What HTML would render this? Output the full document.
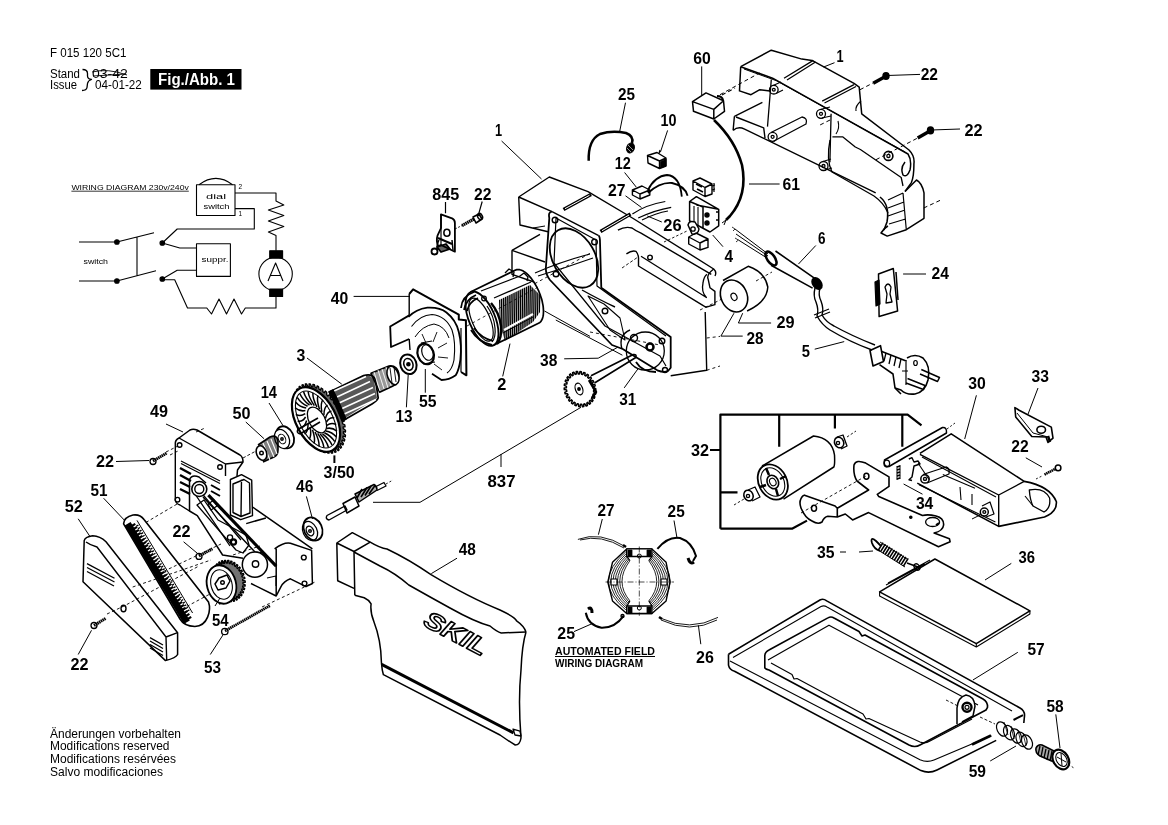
<!DOCTYPE html>
<html><head><meta charset="utf-8"><style>
html,body{margin:0;padding:0;background:#fff;overflow:hidden}
svg{display:block;filter:grayscale(1)}
</style></head><body>
<svg width="1168" height="825" viewBox="0 0 1168 825">
<rect width="1168" height="825" fill="#fff"/>
<g fill="none" stroke="#000" stroke-width="1.4" stroke-linejoin="round" stroke-linecap="butt">
<!-- 00_header.svg -->
<g stroke="none" fill="#000" font-family="Liberation Sans" font-size="12">
<text x="50" y="57" textLength="76.4" lengthAdjust="spacingAndGlyphs">F 015 120 5C1</text>
<text x="50" y="77.5" textLength="30" lengthAdjust="spacingAndGlyphs">Stand</text>
<text x="50" y="89" textLength="27" lengthAdjust="spacingAndGlyphs">Issue</text>
<text x="92" y="77.5" textLength="35.7" lengthAdjust="spacingAndGlyphs">03-42</text>
<text x="95" y="89" textLength="46.8" lengthAdjust="spacingAndGlyphs">04-01-22</text>
<text x="50" y="737.5" textLength="131" lengthAdjust="spacingAndGlyphs">Änderungen vorbehalten</text>
<text x="50" y="750.3" textLength="119.5" lengthAdjust="spacingAndGlyphs">Modifications reserved</text>
<text x="50" y="763" textLength="126" lengthAdjust="spacingAndGlyphs">Modifications resérvées</text>
<text x="50" y="776" textLength="113" lengthAdjust="spacingAndGlyphs">Salvo modificaciones</text>
<rect x="150.3" y="69" width="91.2" height="20.6"/>
<text x="158" y="84.5" fill="#fff" font-weight="bold" font-size="16" textLength="77" lengthAdjust="spacingAndGlyphs">Fig./Abb. 1</text>
<text x="555" y="654.8" font-weight="bold" font-size="11" textLength="100" lengthAdjust="spacingAndGlyphs">AUTOMATED FIELD</text>
<text x="555" y="667" font-weight="bold" font-size="11" textLength="88" lengthAdjust="spacingAndGlyphs">WIRING DIAGRAM</text>
</g>
<path d="M555 656.5H655" stroke-width="1"/>
<path d="M82.5 69.5 Q87.5 69.5 87.5 73.5 L87.5 76 Q87.5 79 91.5 79.5 Q88 80.5 87.5 83.5 L87 87.5 Q86.5 90.5 82 90.5" stroke-width="1.3"/>
<path d="M92 72 Q108 68 127 75 M93 76 L126 74" stroke-width="0.9"/>

<!-- 01_wiring.svg -->
<g stroke-width="1.1">
<g stroke="none" fill="#000" font-family="Liberation Sans" font-size="7.5">
<text x="71.4" y="189.5" textLength="117.4" lengthAdjust="spacingAndGlyphs">WIRING DIAGRAM 230v/240v</text>
<text x="206" y="199" font-size="8" textLength="20" lengthAdjust="spacingAndGlyphs">dial</text>
<text x="203.5" y="208.5" font-size="8" textLength="26" lengthAdjust="spacingAndGlyphs">switch</text>
<text x="201.5" y="262" font-size="7" textLength="27" lengthAdjust="spacingAndGlyphs">suppr.</text>
<text x="83.5" y="264" font-size="8" textLength="24.5" lengthAdjust="spacingAndGlyphs">switch</text>
<text x="238.5" y="188.5" font-size="6.5">2</text>
<text x="238.5" y="216" font-size="6.5">1</text>
</g>
<path d="M71.4 191.2H188.8" stroke-width="0.8"/>
<rect x="196.5" y="184.7" width="38.5" height="30.8"/>
<path d="M199 184.7 Q216 172 232.5 184.7"/>
<path d="M235 193H276V201 L283.8 205 L268.4 210 L283.8 215.5 L268.4 221 L283.8 226.5 L268.4 232 L276 235.5V250.7"/>
<path d="M235 208.6H254.3V229H177.2L162.3 243"/>
<rect x="269.7" y="250.7" width="12.9" height="7.5" fill="#000"/>
<circle cx="275.6" cy="274" r="16.7"/>
<path d="M268 281 L275.6 263 L283 281 M270.5 275.5H280.8"/>
<rect x="269.7" y="289" width="12.9" height="7.5" fill="#000"/>
<path d="M276 296.5V308H245.3L241.5 314 L234 299 L226.5 314 L219 299 L211.5 314 L206.8 308H187.5L174.7 279.7H162.3"/>
<path d="M162.3 243L179.8 248H196.5"/>
<rect x="196.5" y="243.8" width="33.9" height="32.6"/>
<path d="M162.3 279L177.2 270.2H196.5"/>
<path d="M79 242H116.9L154 232.7 M79 281H116.9L156 270.7 M137 237.3V275.9"/>
<circle cx="116.9" cy="242" r="2.3" fill="#000"/>
<circle cx="116.9" cy="281" r="2.3" fill="#000"/>
<circle cx="162.3" cy="243" r="2.3" fill="#000"/>
<circle cx="162.3" cy="279" r="2.3" fill="#000"/>
</g>

<!-- 10_handle.svg -->
<g stroke-width="1.3">
<!-- top channel box -->
<path d="M740.7 66.7 L771.3 50.2 L801.9 59.1 L812 60.4 L854 83.3 L859.2 87.1 L861.7 113.8 L909 150 Q915 156 913.9 164 Q914 176 911.4 182.6 L905 191.5" stroke-width="1.5"/>
<path d="M740.7 66.7 L739.5 90.9 L751 94.7 L759.8 89.7 L770 90.9" stroke-width="1.5"/>
<path d="M740.7 66.7 L772.6 78.2 L908 154 Q912 160 910 170 Q907 178 903 175 Q900 168 905 162" stroke-width="1.5"/>
<path d="M744 69 L776.4 80.7 L905 152" stroke-width="1"/>
<path d="M784 78.2 L813.3 60.4 M787 80 L815.5 62" stroke-width="1.3"/>
<path d="M822.2 101.1 L854 84.6 M824.5 103 L856 86.5" stroke-width="1.3"/>
<path d="M861 101 Q855 106 856 111" stroke-width="1.2"/>
<!-- tray lower left -->
<path d="M734.4 116.4 L762.4 102.4 M734.4 116.4 L733.1 130.4 M736 117 L763.7 127.9 L765 138 M733.1 130.4 Q738 126 744.6 129.1 L875.7 192.8" stroke-width="1.4"/>
<!-- internal verticals -->
<path d="M771.3 79.5 L767.5 126.6 M831.1 113.8 L829.9 162.2" stroke-width="1.3"/>
<!-- grip lower edge with notch -->
<path d="M832.4 136.8 L842.6 136.8 L855.3 147 L860.4 149.5 L901.2 177.5 L903 186" stroke-width="1.3"/>
<path d="M830 140 Q826 160 832 172 L874 196 Q884 203 888 213" stroke-width="1.3"/>
<path d="M838 121 Q840 128 836 134" stroke-width="1.1"/>
<!-- rear foot -->
<path d="M905 191.5 L916.5 180 Q922 183 924 192.8 L924 218.3 L906.3 229.7 L887.2 236.1 L881 233 Q884 228 888 226" stroke-width="1.5"/>
<path d="M903 193 L906.3 229.7 M888 200 L903 193 M888 208 L904 202 M888 216 L905 210 M889 224 L905.5 219" stroke-width="1.2"/>
<path d="M880 197 Q890 205 887 222 L884 230" stroke-width="1.6"/>
<!-- cylinders -->
<circle cx="773.8" cy="89.7" r="4.3"/><circle cx="773.8" cy="89.7" r="1.4"/>
<path d="M773 85.5 L781 82 M776 93.5 L783 90" stroke-width="1.1"/>
<path d="M771 132.5 L802 117 Q808 118 806 124 L774 141" stroke-width="1.3"/>
<circle cx="772.6" cy="136.8" r="4.5"/><circle cx="772.6" cy="136.8" r="1.5"/>
<circle cx="821" cy="113.8" r="4.5"/><circle cx="821" cy="113.8" r="1.5"/>
<path d="M821 109.3 L830 107 M822 118 L831 116" stroke-width="1.1"/>
<circle cx="823.5" cy="166" r="4.5"/><circle cx="823.5" cy="166" r="1.5"/>
<path d="M823 161.5 L831 159 M825 170 L832 168" stroke-width="1.1"/>
<circle cx="888.4" cy="155.9" r="4.5" stroke-width="1.6"/><circle cx="888.4" cy="155.9" r="1.6"/>
<!-- dashed -->
<path d="M720 94.7 L759.5 73 M860 89.7 L873 83 M876 159.7 L917.7 138 M923.7 208 L940 200.4 M830 120 L818 126" stroke-dasharray="4 3" stroke-width="1"/>
<path d="M823.6 67 L834.5 62.7 M887 75.5 L920 74.4 M931 130 L960 129" stroke-width="1"/>
<!-- screws -->
<path d="M873.2 83.3 L884 77.3" stroke-width="3.4"/><ellipse cx="886" cy="76" rx="2.6" ry="3" stroke-width="2.2" fill="#000"/>
<path d="M917.7 138 L929 131.5" stroke-width="3.4"/><ellipse cx="930.5" cy="130.4" rx="2.6" ry="3" stroke-width="2.2" fill="#000"/>
</g>

<!-- 11_housing.svg -->
<g stroke-width="1.4">
<!-- top box -->
<path d="M518.7 197 L549.3 177 L588 191.7 L632.4 218 L713.7 269 Q717 272 715 276 M705.2 312 L706.7 370.3 L670.7 375.7"/>
<path d="M518.7 197 L552 211.7 M518.7 197 L520 225 L548 231.7"/>
<path d="M563.5 209.5 L591 194.5" stroke-width="3.6"/><path d="M565 208.7 L589.5 195.3" stroke="#fff" stroke-width="1"/>
<path d="M600.5 231.5 L630.5 214" stroke-width="3.6"/><path d="M602 230.7 L629 215" stroke="#fff" stroke-width="1"/>
<path d="M552 211.7 L598.7 235.7"/>
<!-- fan face plate -->
<path d="M552 211.7 Q548 212 549.3 218 L546 266 Q545 274 550 280 L612 345 L622.7 349 L657.3 370.3 Q664 373 668 371 L670.7 367.7 L670.7 337 L601.3 287.7 L600 242.3 Q600 237 598.7 235.7" stroke-width="1.8"/>
<path d="M556 218 L554 263 L605 326 L660 356 L666 366 M556 218 L596 240 L597 286 L666 336" stroke-width="1.2"/>
<ellipse cx="574" cy="258" rx="32" ry="21" transform="rotate(60 574 258)" stroke-width="1.8"/>
<path d="M535 273 Q560 262 590 254 M538 276 Q565 268 593 258" stroke-width="1.2"/>
<circle cx="555" cy="220" r="2.8"/><circle cx="594.5" cy="242" r="2.8"/><circle cx="556" cy="274" r="2.8"/>
<circle cx="605" cy="311" r="2.8"/><circle cx="662" cy="341" r="2.8"/><circle cx="665" cy="370" r="2.5"/>
<path d="M588 296 L610 330 L625 340 L620 318 L604 304 Z" stroke-width="1.1"/>
<path d="M582 290 Q600 300 615 307"/>
<!-- gear plate -->
<circle cx="645.3" cy="351" r="19" stroke-width="1.3"/>
<circle cx="650" cy="347" r="3.5" stroke-width="2.5"/>
<circle cx="634" cy="338" r="3.5"/>
<path d="M622 349 Q618 335 630 330"/>
<!-- slot in body -->
<path d="M617.9 230.2 Q625 226 632 228 Q636 231 641 233.2 L711.3 274.4" stroke-width="1.4"/>
<path d="M626.4 253.8 Q632 250 636 251.4 Q639 255 638.5 260 L638.5 266 L701.6 304.7 Q705 307 706.4 307.2 L714.9 304.7 L714.9 291.4 L710 287.8 L708.2 279.3 Q706 275 713.7 269" stroke-width="1.4"/>
<path d="M641 256.2 L706.4 297.5 Q701 292 703 283 Q704 276 707 274.4" stroke-width="1.3"/>
<path d="M622 268 L638 257" stroke-dasharray="3 2" stroke-width="0.9"/>
<circle cx="650" cy="257.4" r="2.3"/>
<!-- left lower box -->
<path d="M512 250.3 L540 234.3 M512 250.3 V274.3 L534 282" />
<path d="M512 250.3 L545 262"/>
<path d="M533 228 L545 226" stroke-width="1"/>
<path d="M534.7 283.7 L590.7 253 M590 332 L660 345" stroke-dasharray="3 3" stroke-width="0.9"/>
<path d="M706.7 338 L720 336.4 M706.7 370.3 L720 366" stroke-dasharray="3 3" stroke-width="0.9"/>
<path d="M501.6 141 L541.5 179" stroke-width="1"/>
</g>

<!-- 12_stator.svg -->
<g stroke-width="1.4">
<path d="M409.2 294 L413.1 289.4 L458.8 314.7 L458.8 319.4 L465.9 320.2 L466.4 375.3 L461 372" stroke-width="2"/>
<path d="M409.2 294 V315.4 M409.2 339 L410 350" stroke-width="1.4"/>
<path d="M409.2 315.4 L390.2 326.5 L391 347 L409.2 339" stroke-width="1.8"/>
<path d="M408.4 317 Q416 309 427.3 307.6 Q440 307 446.2 312.3 Q456 320 458.8 332 Q462 345 460.4 359.6 Q459 370 455.7 375.3 Q449 380 441.5 380 L432 373.8" stroke-width="1.8"/>
<path d="M411.5 326.5 Q420 315 432 314.5 Q446 316 452 330 Q456 342 454 360 Q452 370 447 373" stroke-width="1.1"/>
<path d="M415 337 Q422 326 434 324 Q445 326 449 338" stroke-width="1"/>
<path d="M426 343 L422 334 M433 342 L437 332 M438 348 L447 343 M438 357 L448 358 M434 364 L442 370" stroke-width="0.9"/>
<path d="M461 328 L461 372" stroke-width="1.2"/>
<ellipse cx="425.7" cy="354" rx="8" ry="10.5" transform="rotate(-20 425.7 354)" stroke-width="2.2" fill="#fff"/>
<ellipse cx="427.5" cy="352.5" rx="5.5" ry="8" transform="rotate(-20 427.5 352.5)" stroke-width="1.2"/>
<path d="M421 343 L432 341 M423 364 L435 362" stroke-width="1.2"/>
<ellipse cx="408.4" cy="364.3" rx="8" ry="10" transform="rotate(-20 408.4 364.3)" stroke-width="2"/>
<ellipse cx="408.4" cy="364.3" rx="4.5" ry="6" transform="rotate(-20 408.4 364.3)" stroke-width="1.5"/>
<circle cx="408.4" cy="364.3" r="1.6" fill="#000"/>
<path d="M425.3 392.7 L425.3 369 M406.4 407.3 L408.2 375" stroke-width="1"/>
<path d="M353.6 296.4 L410 296.4" stroke-width="1"/>
<path d="M470.5 292.1 L515.5 270.1 L516.4 269.7 L517.4 269.6 L518.5 269.5 L519.7 269.7 L520.8 270.0 L522.1 270.5 L523.3 271.1 L524.6 271.9 L525.9 272.9 L527.2 274.0 L528.5 275.2 L529.7 276.6 L531.0 278.1 L532.2 279.7 L533.5 281.4 L534.6 283.2 L535.7 285.1 L536.8 287.1 L537.8 289.1 L538.8 291.2 L539.6 293.3 L540.4 295.4 L541.1 297.5 L541.8 299.6 L542.3 301.8 L542.7 303.8 L543.1 305.9 L543.3 307.9 L543.4 309.8 L543.5 311.6 L543.4 313.3 L543.3 315.0 L543.0 316.5 L542.6 317.9 L542.2 319.2 L541.6 320.3 L541.0 321.3 L540.2 322.1 L539.4 322.8 L538.5 323.3 L493.5 345.3" stroke-width="1.7"/>
<clipPath id="stc"><path d="M499 300 L530 285 L541 296 L540 312 L533 322 L505 341 L500 325 Z"/></clipPath>
<g clip-path="url(#stc)"><path d="M499 300 L530 285 L541 296 L540 312 L533 322 L505 341 L500 325 Z" fill="#000" fill-opacity="0.25" stroke="none"/><path d="M497.0 280 L498.0 345M499.1 280 L500.1 345M501.2 280 L502.2 345M503.3 280 L504.3 345M505.4 280 L506.4 345M507.5 280 L508.5 345M509.6 280 L510.6 345M511.7 280 L512.7 345M513.8 280 L514.8 345M515.9 280 L516.9 345M518.0 280 L519.0 345M520.1 280 L521.1 345M522.2 280 L523.2 345M524.3 280 L525.3 345M526.4 280 L527.4 345M528.5 280 L529.5 345M530.6 280 L531.6 345M532.7 280 L533.7 345M534.8 280 L535.8 345M536.9 280 L537.9 345M539.0 280 L540.0 345M541.1 280 L542.1 345" stroke-width="1.3"/></g>
<path d="M504 330 L533 314" stroke="#fff" stroke-width="2.2"/><path d="M503 333 L533 317" stroke-width="1"/>
<ellipse cx="482" cy="318.7" rx="29" ry="13" transform="rotate(67 482 318.7)" stroke-width="1.8" fill="#fff"/>
<ellipse cx="481" cy="319.7" rx="23" ry="9" transform="rotate(67 481 319.7)" stroke-width="1.2"/>
<path d="M491 303 Q499 312 501 326 Q502 338 497 344" stroke-width="2.4"/>
<path d="M487 306 Q494 316 495 328 Q496 337 492 342" stroke-width="1.2"/>
<path d="M481 291 L520 276 M494 298 L531 282" stroke-width="1.3"/>
<path d="M505 273 L509 269 L514 272 L513 277 M520 276 L524 273 L528 277 L527 281" stroke-width="1.3"/>
<path d="M461 308 Q462 296 474 292 M464 310 Q466 299 476 295 M467 311 Q469 302 478 298" stroke-width="1.8"/>
<path d="M471 330 Q478 342 492 345 M474 328 Q481 338 493 341" stroke-width="1.8"/>
<circle cx="484" cy="298.5" r="2.3" stroke-width="1.3"/>
<path d="M467 326 L540 286" stroke-dasharray="3 3" stroke-width="0.8"/>
<path d="M502.7 376.4 L510 343.6" stroke-width="1"/>
</g>
<!-- 12z_fanteeth.svg -->
<path d="M335.2,449.0 L336.1,451.9 L335.0,452.3 L333.2,449.8 L332.1,450.1 L332.7,453.0 L331.5,453.2 L330.0,450.4 L328.8,450.5 L329.0,453.2 L327.7,453.1 L326.4,450.3 L325.1,450.1 L325.1,452.7 L323.6,452.3 L322.7,449.4 L321.4,448.9 L320.9,451.2 L319.5,450.5 L318.9,447.7 L317.5,446.9 L316.8,449.0 L315.3,448.0 L315.1,445.3 L313.7,444.3 L312.7,446.0 L311.3,444.8 L311.3,442.2 L310.1,441.0 L308.7,442.4 L307.4,440.9 L307.8,438.6 L306.6,437.2 L305.0,438.1 L303.8,436.5 L304.5,434.4 L303.5,432.9 L301.7,433.4 L300.6,431.6 L301.6,429.9 L300.7,428.2 L298.7,428.3 L297.8,426.4 L299.2,425.1 L298.4,423.3 L296.3,422.9 L295.6,421.0 L297.2,420.1 L296.6,418.3 L294.4,417.5 L293.9,415.6 L295.7,415.1 L295.4,413.3 L293.2,412.1 L292.9,410.2 L294.9,410.1 L294.7,408.5 L292.5,406.8 L292.5,405.0 L294.6,405.4 L294.6,403.8 L292.5,401.8 L292.7,400.2 L294.9,401.0 L295.2,399.6 L293.2,397.3 L293.6,395.8 L295.8,397.0 L296.3,395.8 L294.5,393.2 L295.1,392.0 L297.3,393.6 L297.9,392.5 L296.4,389.8 L297.2,388.8 L299.3,390.8 L300.1,389.9 L298.9,387.1 L299.9,386.3 L301.8,388.6 L302.8,388.0 L301.9,385.1 L303.0,384.7 L304.8,387.2 L305.9,386.9 L305.3,384.0 L306.5,383.8 L308.0,386.6 L309.2,386.5 L309.0,383.8 L310.3,383.9 L311.6,386.7 L312.9,386.9 L312.9,384.3 L314.4,384.7 L315.3,387.6 L316.6,388.1 L317.1,385.8 L318.5,386.5 L319.1,389.3 L320.5,390.1 L321.2,388.0 L322.7,389.0 L322.9,391.7 L324.3,392.7 L325.3,391.0 L326.7,392.2 L326.7,394.8 L327.9,396.0 L329.3,394.6 L330.6,396.1 L330.2,398.4 L331.4,399.8 L333.0,398.9 L334.2,400.5 L333.5,402.6 L334.5,404.1 L336.3,403.6 L337.4,405.4 L336.4,407.1 L337.3,408.8 L339.3,408.7 L340.2,410.6 L338.8,411.9 L339.6,413.7 L341.7,414.1 L342.4,416.0 L340.8,416.9 L341.4,418.7 L343.6,419.5 L344.1,421.4 L342.3,421.9 L342.6,423.7 L344.8,424.9 L345.1,426.8 L343.1,426.9 L343.3,428.5 L345.5,430.2 L345.5,432.0 L343.4,431.6 L343.4,433.2 L345.5,435.2 L345.3,436.8 L343.1,436.0 L342.8,437.4 L344.8,439.7 L344.4,441.2 L342.2,440.0 L341.7,441.2 L343.5,443.8 L342.9,445.0 L340.7,443.4 L340.1,444.5 L341.6,447.2 L340.8,448.2 L338.7,446.2 L337.9,447.1 L339.1,449.9 L338.1,450.7 L336.2,448.4Z" stroke-width="1.3" fill="#000" fill-opacity="0.6"/>
<!-- 13_armature.svg -->
<g stroke-width="1.4">
<!-- armature core -->
<path d="M328.7 392.2 L363.6 375.5 Q372 373 375.3 379 L378.2 398 Q377 401 372 404 L341.8 421.3" stroke-width="1.7"/>
<path d="M329 393 L363 376 Q371 374 374 380 L377 398 L342 420 Z" fill="#000" fill-opacity="0.65" stroke="none"/>
<path d="M334 391 L366 376.5 M337 397 L370 381.5 M339 403 L373 387.5 M340 409.5 L375 393.5 M341 415.5 L376 399.5" stroke="#fff" stroke-width="1.6"/>
<path d="M329 392 Q336 405 342 421 L346 419 Q340 404 333 390 Z" fill="#000" stroke-width="1.4"/>
<!-- commutator -->
<path d="M371 373.3 L389 366 Q398 365 399 375 Q399 384 393 386 L379.6 392.2 Z" stroke-width="1.6" fill="#000" fill-opacity="0.4"/>
<path d="M374 372 L380 391 M378 370 L384 389 M382 369 L388 388 M386 367 L391 386 M390 366 L395 384" stroke="#fff" stroke-width="0.9"/>
<ellipse cx="393" cy="375.5" rx="5.5" ry="9.5" transform="rotate(-20 393 375.5)" stroke-width="1.5" fill="#fff"/>
<path d="M390 368 L392 383 M394 367 L396 382" stroke-width="0.9"/>
<!-- fan -->
<ellipse cx="316" cy="419.5" rx="35" ry="20" transform="rotate(62 316 419.5)" stroke-width="2.2" fill="#fff"/>
<ellipse cx="316" cy="419.5" rx="31" ry="16.5" transform="rotate(62 316 419.5)" stroke-width="1.1"/>
<ellipse cx="317" cy="420" rx="14" ry="8" transform="rotate(62 317 420)" stroke-width="1.3"/>

<path d="M298.2 429.3 L318 418 M300 434 L320 422" stroke-width="1.7"/>
<path d="M298 429 Q296 433 300 434" stroke-width="1.5"/>
<!-- bearing 14 -->
<ellipse cx="285" cy="437.3" rx="8.5" ry="11.5" transform="rotate(-25 285 437.3)" stroke-width="1.8"/>
<ellipse cx="282" cy="439" rx="7" ry="10" transform="rotate(-25 282 439)" stroke-width="1.3" fill="#fff"/>
<ellipse cx="282" cy="439" rx="3.5" ry="5" transform="rotate(-25 282 439)" stroke-width="1"/>
<circle cx="282" cy="439" r="1.2"/>
<!-- gear 50 -->
<path d="M258 445 L270 437 Q277 434 278 441 L278 450 Q278 455 274 457 L263 462" stroke-width="1.6" fill="#000" fill-opacity="0.5"/>
<path d="M263 443 L270 460 M267 441 L274 457 M271 439 L277 454" stroke="#fff" stroke-width="1.1"/>
<ellipse cx="261.5" cy="453" rx="5" ry="7.5" transform="rotate(-20 261.5 453)" stroke-width="1.6" fill="#fff"/>
<circle cx="261.5" cy="453" r="1.8"/>
<path d="M307 358 L341.8 384.2 M269 403 L283 425.6 M245.8 422 L264 438.7" stroke-width="1"/>
<path d="M334.4 455.4 V463" stroke-width="2"/>
<path d="M243 458 L256 451" stroke-dasharray="3 2" stroke-width="0.9"/>
</g>

<!-- 13b_fanblades.svg -->
<path d="M320.2 434.0Q326.6 440.8 328.4 447.2M317.7 433.4Q323.2 441.5 323.9 447.5M315.1 432.0Q319.5 440.8 319.1 446.3M312.5 429.8Q315.6 439.0 314.0 443.5M310.2 427.1Q311.7 436.0 309.1 439.2M308.1 423.9Q308.0 432.0 304.5 433.9M306.6 420.5Q304.8 427.4 300.6 427.7M305.6 417.0Q302.3 422.2 297.7 421.0M305.2 413.6Q300.5 416.9 295.8 414.3M305.4 410.6Q299.7 411.8 295.0 407.8M306.2 408.1Q299.8 407.1 295.5 402.0M307.6 406.3Q300.8 403.1 297.2 397.3M309.5 405.2Q302.7 400.1 299.9 393.8M311.8 405.0Q305.4 398.2 303.6 391.8M314.3 405.6Q308.8 397.5 308.1 391.5M316.9 407.0Q312.5 398.2 312.9 392.7M319.5 409.2Q316.4 400.0 318.0 395.5M321.8 411.9Q320.3 403.0 322.9 399.8M323.9 415.1Q324.0 407.0 327.5 405.1M325.4 418.5Q327.2 411.6 331.4 411.3M326.4 422.0Q329.7 416.8 334.3 418.0M326.8 425.4Q331.5 422.1 336.2 424.7M326.6 428.4Q332.3 427.2 337.0 431.2M325.8 430.9Q332.2 431.9 336.5 437.0M324.4 432.7Q331.2 435.9 334.8 441.7M322.5 433.8Q329.3 438.9 332.1 445.2" stroke-width="1.5"/>
<!-- 14_left.svg -->
<g stroke-width="1.4">
<path d="M175.3 444 Q175 440 179 438 L190 430 Q193 428.5 197 430 L240 455 Q243 457 243 462 L237.5 470 L237 476" stroke-width="1.5"/>
<path d="M175.3 444 L175.3 500 Q176 504 180 505 L189.5 511 M179 438 L225.5 464 L225.5 476 M225.5 464 L243 462"/>
<path d="M230.4 479.5 L241.5 474.7 L251.7 480.2 L252.5 515.7 L240.7 519.7 L230.4 515 Z M233 484 L244 479.5 L249.5 483 L250 513 L241 516.5 L233 512.5 Z M241.5 479.5 L241 516.5" stroke-width="1.4"/>
<circle cx="179.6" cy="445" r="2.3"/>
<circle cx="220" cy="467" r="2.3"/>
<circle cx="177.5" cy="499.7" r="2.3"/>
<path d="M181 461 L220 481 M181 463.5 L220 483.5" stroke-width="1.2"/>
<path d="M180 468 L191 474 M180 475 L191 481 M180 482 L190 487 M180 489 L190 494" stroke-width="2.4"/>
<path d="M211 485 L220 490 M211 491 L220 496" stroke-width="2"/>
<path d="M252.5 507 L312.4 548.8 M246.2 523.6 L265.9 518 M274.6 548.8 Q284 542 290.4 543.3 L311.6 550.4 L312.4 583.5 L306 586.7 L290.4 578.8 Q284 581 281 586.7 L276.2 596 L251 583.5 M276.2 548.8 V596" stroke-width="1.5"/>
<circle cx="303.8" cy="557.5" r="2.4"/><circle cx="304.5" cy="583.5" r="2.4"/>
<path d="M267 578 L276 576 L276 586" stroke-width="1.1"/>
<path d="M189.5 479.5 Q192 474 199 477 L206 483 M189.5 479.5 L189.5 511 L197.3 515.7 L222.6 555 L243 558.3" stroke-width="1.5"/>
<path d="M197 505 L236 550 L243 553 L249 545 L246 535 L218 520 L204 500 Z" stroke-width="1.3"/>
<path d="M208.4 495.2 L276.2 566.2" stroke-width="3.2"/>
<path d="M203 497 L255 552 L262 553" stroke-width="1.4"/>
<path d="M195 494 L230 546 M199 490 L241 540" stroke-width="1.3"/>
<circle cx="199.3" cy="489" r="7.5" stroke-width="1.6" fill="#fff"/><circle cx="199.3" cy="489" r="4.5"/>
<path d="M208 504 L214 500 L217 506 L211 510 Z" stroke-width="1.2"/>
<circle cx="254.9" cy="564.6" r="12.6" stroke-width="1.5" fill="#fff"/><circle cx="255.5" cy="564" r="3.2"/>
<circle cx="230" cy="537.5" r="2.6" stroke-width="1.3"/><circle cx="233.5" cy="542" r="2.6" stroke-width="2.2"/>
<path d="M242.1,577.2 L244.6,577.2 L244.9,578.5 L242.6,579.3 L242.7,580.5 L245.2,581.0 L245.3,582.3 L242.9,582.6 L242.9,583.8 L245.2,584.8 L245.1,586.1 L242.7,585.9 L242.5,587.0 L244.7,588.5 L244.4,589.7 L241.9,588.9 L241.6,590.0 L243.6,591.9 L243.1,593.0 L240.8,591.7 L240.2,592.6 L242.0,595.0 L241.3,595.9 L239.1,594.2 L238.5,594.9 L239.8,597.6 L239.0,598.3 L237.1,596.2 L236.4,596.7 L237.3,599.6 L236.4,600.1 L234.8,597.6 L234.0,598.0 L234.5,601.0 L233.4,601.3 L232.3,598.5 L231.4,598.7 L231.4,601.7 L230.3,601.7 L229.6,598.9 L228.6,598.8 L228.3,601.7 L227.1,601.5 L226.8,598.5 L225.9,598.3 L225.1,601.0 L224.0,600.6 L224.1,597.7 L223.2,597.2 L222.0,599.6 L221.0,599.0 L221.6,596.2 L220.7,595.5 L219.1,597.6 L218.2,596.7 L219.2,594.2 L218.5,593.4 L216.5,595.0 L215.7,594.0 L217.2,591.8 L216.5,590.8 L214.4,591.9 L213.7,590.8 L215.5,589.0 L215.0,587.9 L212.6,588.5 L212.2,587.3 L214.2,585.9 L213.9,584.8 L211.4,584.8 L211.1,583.5 L213.4,582.7 L213.3,581.5 L210.8,581.0 L210.7,579.7 L213.1,579.4 L213.1,578.2 L210.8,577.2 L210.9,575.9 L213.3,576.1 L213.5,575.0 L211.3,573.5 L211.6,572.3 L214.1,573.1 L214.4,572.0 L212.4,570.1 L212.9,569.0 L215.2,570.3 L215.8,569.4 L214.0,567.0 L214.7,566.1 L216.9,567.8 L217.5,567.1 L216.2,564.4 L217.0,563.7 L218.9,565.8 L219.6,565.3 L218.7,562.4 L219.6,561.9 L221.2,564.4 L222.0,564.0 L221.5,561.0 L222.6,560.7 L223.7,563.5 L224.6,563.3 L224.6,560.3 L225.7,560.3 L226.4,563.1 L227.4,563.2 L227.7,560.3 L228.9,560.5 L229.2,563.5 L230.1,563.7 L230.9,561.0 L232.0,561.4 L231.9,564.3 L232.8,564.8 L234.0,562.4 L235.0,563.0 L234.4,565.8 L235.3,566.5 L236.9,564.4 L237.8,565.3 L236.8,567.8 L237.5,568.6 L239.5,567.0 L240.3,568.0 L238.8,570.2 L239.5,571.2 L241.6,570.1 L242.3,571.2 L240.5,573.0 L241.0,574.1 L243.4,573.5 L243.8,574.7 L241.8,576.1Z" stroke-width="1.3" fill="#000" fill-opacity="0.55"/>
<path d="M215 566 L226 561 M219 604 L230 599" stroke-width="1.4"/>
<ellipse cx="221.5" cy="584.5" rx="14.5" ry="19.5" transform="rotate(-15 221.5 584.5)" stroke-width="1.8" fill="#fff"/>
<ellipse cx="221.5" cy="584.5" rx="10.5" ry="15" transform="rotate(-15 221.5 584.5)" stroke-width="1.1"/>
<path d="M219 578 L227 575 L230 581 L226 588 L218 590 L215 584 Z" stroke-width="1.5"/><circle cx="222.5" cy="582.5" r="1.8"/>
<path d="M123.6 523.8 L180 619 Q184 626 194.9 626.5 Q204 626 207.6 617.1 Q211 609 208.5 601.9 L144 519.5 Q140 514 133 515 Q124 517 123.6 523.8 Z" stroke-width="1.6"/>
<path d="M127.6 523.7 L186.8 622.3" stroke-width="7"/>
<path d="M133.0 524.0 L190.2 619.1" stroke-width="4" stroke-dasharray="2.2 1.3"/>
<path d="M137.1 525.0 L189.6 612.5" stroke-width="2.4" stroke-dasharray="1.3 1.7"/>
<path d="M137.0 520.4 L192.6 613.0" stroke-width="1"/>
<path d="M84.2 540.6 Q85 537 92.7 535.8 Q100 536 106 541.8 L177.6 632.7 L177.6 654.5 Q176 658 165.5 660.6 L83 581.8 Z" stroke-width="1.5"/>
<path d="M86 542 Q90 545 97 547 L166 637 L177.6 632.7 M166 637 L166.7 660"/>
<path d="M87 563.6 L114.5 578.2 M87 567.5 L114.5 582 M87 571.5 L114 586" stroke-width="1.3"/>
<path d="M150 637.6 L163 645 M150 641 L163 648.5 M150 644.5 L163 652 M150 648 L163 655.5" stroke-width="1.3"/>
<ellipse cx="123.5" cy="608.5" rx="2.5" ry="3.2"/>
<path d="M94 625.5 L106 618.2" stroke-width="3" stroke-dasharray="1.5 0.5"/><circle cx="94" cy="625.5" r="3" stroke-width="1.3"/>
<path d="M199 556 L212.4 548.8" stroke-width="3" stroke-dasharray="1.5 0.5"/><circle cx="199" cy="556.4" r="3" stroke-width="1.3"/>
<path d="M153 461 L167 453" stroke-width="3" stroke-dasharray="1.5 0.5"/><circle cx="153" cy="461.5" r="3" stroke-width="1.3"/>
<path d="M225 631 L270 605.6" stroke-width="2.8" stroke-dasharray="1.5 0.5"/><circle cx="224.8" cy="631.5" r="3.2" stroke-width="1.3"/>
<path d="M210.3 654.5 L223.6 634 M78.2 654.5 L91.5 630.3 M78.2 518.8 L90.3 537 M103.6 498.2 L124.2 520 M183.6 541.8 L198.2 554 M215 606 L220 598 M116 461.5 L149 460.5 M166 424 L183 432" stroke-width="1"/>
<path d="M146 522.4 L178.8 503 M107 614 L124 606 L199 566 M154 576 L221 544 M132.7 587 L211 560 M182 609 L210 594 M262 607 L315 582 M170 455 L178 451 M196 432 L205 428 M233 555 L260 546 M166 452 L178 446" stroke-dasharray="3 2.5" stroke-width="0.9"/>
<ellipse cx="313" cy="529" rx="9" ry="12" transform="rotate(-25 313 529)" stroke-width="1.8"/>
<ellipse cx="310" cy="531" rx="7" ry="10" transform="rotate(-25 310 531)" stroke-width="1.3"/>
<ellipse cx="310" cy="531" rx="3.5" ry="5" transform="rotate(-25 310 531)"/><circle cx="310" cy="531" r="1.3"/>
<path d="M306.4 496.4 L312.5 519" stroke-width="1"/>
</g>
<!-- 15_mid.svg -->
<g stroke-width="1.4">
<path d="M592.5,384.5 L594.8,384.4 L595.2,385.9 L593.2,386.9 L593.4,388.2 L595.7,388.6 L595.8,390.1 L593.6,390.5 L593.6,391.8 L595.7,392.9 L595.5,394.3 L593.2,394.1 L592.9,395.3 L594.8,396.9 L594.3,398.2 L592.0,397.4 L591.5,398.5 L593.0,400.5 L592.2,401.6 L590.2,400.2 L589.4,401.1 L590.5,403.4 L589.5,404.3 L587.7,402.4 L586.8,403.0 L587.4,405.5 L586.2,406.0 L584.8,403.8 L583.7,404.1 L583.8,406.6 L582.5,406.8 L581.7,404.3 L580.5,404.3 L580.0,406.7 L578.7,406.5 L578.4,404.0 L577.2,403.7 L576.2,405.8 L574.9,405.3 L575.2,402.8 L574.1,402.2 L572.7,403.9 L571.5,403.1 L572.3,400.8 L571.4,399.9 L569.5,401.2 L568.6,400.1 L569.8,398.1 L569.1,397.0 L567.0,397.7 L566.3,396.4 L568.0,394.9 L567.5,393.7 L565.2,393.8 L564.8,392.3 L566.8,391.3 L566.6,390.0 L564.3,389.6 L564.2,388.1 L566.4,387.7 L566.4,386.4 L564.3,385.3 L564.5,383.9 L566.8,384.1 L567.1,382.9 L565.2,381.3 L565.7,380.0 L568.0,380.8 L568.5,379.7 L567.0,377.7 L567.8,376.6 L569.8,378.0 L570.6,377.1 L569.5,374.8 L570.5,373.9 L572.3,375.8 L573.2,375.2 L572.6,372.7 L573.8,372.2 L575.2,374.4 L576.3,374.1 L576.2,371.6 L577.5,371.4 L578.3,373.9 L579.5,373.9 L580.0,371.5 L581.3,371.7 L581.6,374.2 L582.8,374.5 L583.8,372.4 L585.1,372.9 L584.8,375.4 L585.9,376.0 L587.3,374.3 L588.5,375.1 L587.7,377.4 L588.6,378.3 L590.5,377.0 L591.4,378.1 L590.2,380.1 L590.9,381.2 L593.0,380.5 L593.7,381.8 L592.0,383.3Z" stroke-width="1.5" fill="#fff"/>
<path d="M591 375.8 L633.3 354.5 Q637 354 635.8 357.5 L594.5 383" stroke-width="1.6"/>
<ellipse cx="579" cy="389" rx="3.6" ry="6" transform="rotate(-20 579 389)" stroke-width="1.2"/><circle cx="579" cy="389" r="1.2" fill="#000"/>
<path d="M589 380 L596 392 L592 398" stroke-width="2.5"/>
<path d="M564.2 358.8 L598.2 358.2 L617.6 347.3 M624.2 387.9 L638.2 368.5 M555.8 320 L622.4 355.2" stroke-width="1"/>
<path d="M636 362 Q642 372 656 372" stroke-width="1.8"/>
<path d="M544.5 311 L590 336.4" stroke-width="1"/>
<path d="M327 515.5 L345 506 L347 510 L329 520 Q325 519 327 515.5 Z" stroke-width="1.4"/>
<path d="M343 503.5 L355 497 L359 506 L347 513 Z" stroke-width="1.5"/>
<path d="M355 494 L374 484.5 Q377 486 377 490 L359 502 Z" stroke-width="1.5" fill="#000" fill-opacity="0.3"/>
<path d="M357 498 L362 489 M361 497 L367 487.5 M365 495.5 L371 486 M369 494 L375 485.5" stroke-width="1.6"/>
<path d="M375 487 L384 482.5 L386 486 L377 490.5" stroke-width="1.3"/>
<path d="M386 484 L393 480" stroke-dasharray="2 2" stroke-width="0.9"/>
<path d="M373 502.3 L420 502.3 L581 407.3 M501 454 V467" stroke-width="1"/>
</g>
<!-- 16_top.svg -->
<g stroke-width="1.4">
<path d="M441 214.3 L452 218.3 Q455 220 454.9 223 L454.9 251.7 L441 245 L438 246 Q436 240 437.5 235.7 L441 228 Z" stroke-width="1.8"/>
<path d="M441 214.3 L441 245" stroke-width="1.2"/>
<ellipse cx="446.9" cy="232.8" rx="3" ry="3.5" stroke-width="1.6"/>
<path d="M438 238 L452 244" stroke-width="2"/>
<circle cx="434.5" cy="251.5" r="3" stroke-width="1.8"/><path d="M437 247 L446 244 L450 249 L441 252 Z" stroke-width="1.8" fill="#000" fill-opacity="0.6"/>
<path d="M439 240 Q436 246 438 250 M452 240 L453 250" stroke-width="1.5"/>
<path d="M462 225.5 L474 219" stroke-width="3.2" stroke-dasharray="1.5 0.5"/><path d="M473 217 L479 214 L482 219 L476 223 Z" stroke-width="1.6"/><ellipse cx="480" cy="216.5" rx="2.3" ry="3.2" transform="rotate(-30 480 216.5)" stroke-width="1.5"/>
<path d="M455 229 L462 225.5" stroke-dasharray="2 1.5" stroke-width="0.9"/>
<path d="M445.5 201.9 V213.2 M482.2 201.5 L478.9 213.2" stroke-width="1.2"/>
<path d="M588.7 160.8 Q588 140 600 134 Q612 130 626 133 Q634 136 632 143" stroke-width="2.5"/>
<ellipse cx="630.5" cy="148" rx="3.8" ry="5" transform="rotate(20 630.5 148)" fill="#000" stroke-width="1"/><path d="M628 145 L633 150 M627 148 L631 152" stroke="#fff" stroke-width="0.6"/>
<path d="M625.5 102.7 L619.6 131.8" stroke-width="1"/>
<path d="M647.5 155.5 L657 152.5 L666 158 L666 166 L659.5 168.5 L648 163 Z M647.5 155.5 L659.5 161 L666 158 M659.5 161 V168.5" stroke-width="1.4"/>
<path d="M660.5 161.5 L666 159 L666 166 L660.5 168 Z" fill="#000" stroke-width="0.8"/>
<path d="M659 153.5 L660 150" stroke-width="1.2"/>
<path d="M667.6 130.4 L660.4 152.2" stroke-width="1"/>
<path d="M632.4 190 L642 186 L649.8 190 L649.8 195 L640 199 L632.4 195 Z M632.4 190 L640 194 L649.8 190 M640 194 V199" stroke-width="1.4"/>
<path d="M648 190 Q655 176 667 175 Q680 176 681.8 196.7 M648 193 Q660 182 672 183 Q685 186 687.6 195.7" stroke-width="1.8"/>
<path d="M624.6 172.5 L636.2 187 M625.5 195.8 L641.5 207.5 M661.8 222 L647.3 216 M723 246.7 L712.7 235 M749 184 L779.6 184 M701.7 66.4 V95.5" stroke-width="1"/>
<path d="M693 181 L700 178 L712 184 L712 194 L705 196.5 L693 190 Z M693 181 L705 187.5 L712 184 M705 187.5 V196.5" stroke-width="1.4"/>
<path d="M696 184 L702 187 M697 189 L703 192" stroke-width="1.6"/><path d="M712 186 L715 185 M712 190 L715 189 M714 183 V192" stroke-width="1.2"/>
<path d="M689.6 201.5 L696.4 196.7 L718.7 209.3 L718.7 225.8 L710 232 L689.6 221 Z M696.4 205 L718.7 209.3 M703 207 V229 M689.6 201.5 L703 207" stroke-width="1.5"/>
<path d="M694 206 V222 M698 207 V225" stroke-width="1.1"/>
<circle cx="707" cy="215" r="2" fill="#000"/><circle cx="707" cy="223" r="2" fill="#000"/>
<path d="M716 212 L718.7 212 M716 220 L718.7 220" stroke-width="1.5"/>
<path d="M688 225 Q689 220 695 222 L699 229 Q698 235 692 234 Z" stroke-width="1.5" fill="#fff"/><circle cx="693" cy="229" r="2.2" stroke-width="1.3"/>
<path d="M688.7 237 L696 233 L708 239 L708 247.4 L700 250 L688.7 244 Z M688.7 237 L700 243 L708 239 M700 243 V250" stroke-width="1.4"/>
<path d="M664 242 L687 231" stroke-dasharray="2.5 2" stroke-width="0.9"/>
<path d="M632.4 214.1 Q645 205 665.3 201.5 M638.2 218 Q655 210 671.2 207.3 M642 220 Q656 213 668 211" stroke-width="1.2"/>
<path d="M692.5 101.6 L706 92.9 L723.5 100.7 L724.5 111.3 L713.8 119 L693.5 111.3 Z M692.5 101.6 L713.8 109.4 L723.5 100.7 M713.8 109.4 V119" stroke-width="1.5"/>
<path d="M717 96 Q722 96 723 100" stroke-width="2.2"/>
<path d="M722 95 L735 88" stroke-dasharray="4 3" stroke-width="1.1"/>
<path d="M714 120 Q735 140 742 165 Q748 195 730 216 L726 220" stroke-width="2.6"/>
<path d="M726 220 L722 223 M726 220 L724 225" stroke-width="1"/>
<path d="M735 229 L768 254 M738.4 240 L767 258 M736 234 L768 256" stroke-width="1"/>
<path d="M735 229 L732 227 M735 229 L733 231 M738.4 240 L735 238 M738.4 240 L736 242" stroke-width="0.8"/>
<ellipse cx="771" cy="258.5" rx="3.8" ry="8" transform="rotate(-35 771 258.5)" stroke-width="2.6"/>
<path d="M775.5 251 L814.7 278.3 M771 265.2 L812.6 288.1" stroke-width="1.6"/>
<ellipse cx="817" cy="283.5" rx="3.5" ry="5.5" transform="rotate(-35 817 283.5)" stroke-width="3" fill="#000"/>
<path d="M815 288 Q813 296 816 302 Q819 310 817 316 Q822 325 830 330 Q850 342 872 350 M820 288 Q818 295 821 301 Q824 309 822 315 Q826 322 834 326 Q852 336 875 345" stroke-width="1.4"/>
<path d="M814 315 L829 309 M815 318 L830 312" stroke-width="1.3"/>
<path d="M870 350.5 L880.5 345.7 L883.5 361.5 L873 366 Z" stroke-width="1.6"/>
<path d="M881.2 351.3 L906.8 361.3 M879.5 364.7 L893 374 L895 388 L901 394" stroke-width="1.6"/>
<path d="M886 353 L884 361 M891 355 L889 364 M896 357 L894 366 M901 359 L899 368" stroke-width="1.3"/>
<path d="M907 358 Q915 353 923 358 Q931 366 928 380 Q925 392 915 394 Q906 395 901 390 L895 388" stroke-width="1.6"/>
<path d="M906 362 L906 385 M902 371 L908 371" stroke-width="1.2"/>
<path d="M921.3 369.5 L939.5 377.5 L937.5 381.5 L920 374 M907.5 378.5 L925 385.5 L923.5 389.5 L906 383" stroke-width="1.5"/>
<ellipse cx="915.5" cy="363" rx="1.8" ry="2.5" stroke-width="1.2"/>
<path d="M798.4 264.1 L815.8 245.5 M814.7 349.2 L844.2 341.6" stroke-width="1"/>
<path d="M723 280.5 L748.2 266.3 Q765 272 767.8 287 Q767 302 747.1 311" stroke-width="1.5"/>
<ellipse cx="734" cy="296" rx="13" ry="16.5" transform="rotate(-25 734 296)" stroke-width="1.6"/>
<ellipse cx="734" cy="296.8" rx="2.8" ry="3.8" transform="rotate(-25 734 296.8)" stroke-width="1.2"/>
<path d="M742.7 313.2 L738.4 323 L771.1 323 M734 313.2 L720.9 336.1 L742.7 336.1" stroke-width="1"/>
<path d="M700 310 L722 299 M756 281 L772 272" stroke-dasharray="3 2.5" stroke-width="0.9"/>
<path d="M878.5 274 L893.3 268.5 L897.6 311 L879.1 316.5 Z" stroke-width="1.5"/>
<path d="M875 282 L876 306 L880 304 L879 280 Z" stroke-width="1.2" fill="#000"/>
<path d="M896 272 L898 300" stroke-width="1.5"/>
<path d="M885 287 Q888 281 891 287 L890 294 L892 302 L886 303 L887 294 Z" stroke-width="1.3"/>
<path d="M903.1 274 L926 274" stroke-width="1"/>
</g>
<!-- 17_right.svg -->
<g stroke-width="1.4">
<path d="M720.4 528.7 V414.6 H907.6 L921.5 425.3 M720.4 528.7 H792 L807 520.6 M779.2 415 V446.7 M834.9 415 V428.5 M902.3 415 V446.7 M720.4 492.3 H737.5 M710 450 H720.4" stroke-width="2.2"/>
<path d="M762 466 L813.5 436 Q832 438 834.5 455 Q835 465 833.8 467 L783.5 499.2" stroke-width="1.5"/>
<ellipse cx="772.8" cy="482" rx="14" ry="18.5" transform="rotate(-28 772.8 482)" stroke-width="1.8"/>
<ellipse cx="772.8" cy="482" rx="11" ry="15" transform="rotate(-28 772.8 482)" stroke-width="1.1"/>
<ellipse cx="772.8" cy="482" rx="5.5" ry="7" transform="rotate(-28 772.8 482)" stroke-width="1.6"/>
<ellipse cx="772.8" cy="482" rx="3" ry="4" transform="rotate(-28 772.8 482)" stroke-width="1.1"/>
<path d="M766 468 L769 475 M778 496 L776 489 M760 487 L766 485 M786 476 L780 479" stroke-width="2.5"/>
<ellipse cx="839.1" cy="442.5" rx="4.5" ry="5.5" transform="rotate(-25 839.1 442.5)" stroke-width="1.5"/><circle cx="838" cy="443" r="1.6"/>
<path d="M837 437 L843 435 L847 446 L841 449" stroke-width="1.3"/>
<ellipse cx="748.5" cy="495.5" rx="4.5" ry="5.5" transform="rotate(-25 748.5 495.5)" stroke-width="1.5"/><circle cx="748" cy="496" r="1.6"/>
<path d="M748 490 L755 487 L760 497 L752 501" stroke-width="1.3"/>
<path d="M734 505 L744 499 M847 437 L856 431" stroke-dasharray="2.5 2" stroke-width="0.9"/>
<path d="M803.8 495.1 L835.1 506 L837.3 508.2 L837.3 517 L845.3 514 L852.6 519.9 L868.6 512.6 L938.5 546.8 L950.1 541.7 L949.4 538.8 L934.1 533 Q943 531 943.6 525 Q944 518 936 516 Q928 514 922.5 515.5 L878.8 496.6 L877.3 494.4 L889 486.4 L889 476.9 L865.7 463.1 Q856 459 854 465 Q853 475 857 481 L868.6 490 L837.3 508.2 M803.8 495.1 Q798 500 801 508 Q805 518 812 521 Q818 525 822 522 Q824 517 827.8 516.2 L837.3 517" stroke-width="1.6"/>
<ellipse cx="814" cy="508.2" rx="2.5" ry="3" stroke-width="1.5"/><ellipse cx="866.4" cy="476.2" rx="2.5" ry="3" stroke-width="1.5"/>
<ellipse cx="932.6" cy="522" rx="7" ry="4.5" stroke-width="1.3"/><circle cx="910.8" cy="517.3" r="1.1" fill="#000"/>
<path d="M801 513 L866 476" stroke-dasharray="3 2.5" stroke-width="0.9"/>
<path d="M936 525 L939 523" stroke-width="2"/>
<path d="M884.5 460 L942.5 427.5 Q947 427 946.5 433 L889 466.5 Q883 467 884.5 460 Z" stroke-width="1.5"/><ellipse cx="886.8" cy="463.6" rx="2.8" ry="3.4" stroke-width="1.3"/>
<path d="M947 429 L955 423" stroke-dasharray="2 2" stroke-width="0.9"/>
<path d="M897 467 L900 466 M897 470 L900 469 M897 473 L900 472 M897 476 L900 475 M897 479 L900 478" stroke-width="1.6"/><path d="M897 466 V480 M900 465 V479" stroke-width="1"/>
<path d="M903.6 484 L922.5 494.2" stroke-width="1"/>
<path d="M919.9 453.4 L951.2 433.9 L1024.2 481.4 Q1050 486 1056.4 501.8 Q1057 512 1044.5 517 L998.7 526.4 L917.3 483.1" stroke-width="1.6"/>
<path d="M919.9 454.3 L998.7 495 L1024.2 481.4 M998.7 495 V526.4" stroke-width="1.4"/>
<path d="M1029.3 490 Q1044 487 1049.6 498 Q1051 508 1044 512 L1033 506 Q1030 500 1029.3 490 Z" stroke-width="1.3"/>
<path d="M1025 496 L1033 506" stroke-width="1.1"/>
<path d="M919 484.8 L995.4 522.1 M922 457 L996 497 M942.8 474.6 L975 488.2 M960 487 L961 500 M972 494 L972 505" stroke-width="1.1"/>
<path d="M908.8 459 L912 457.7 L914 462 L918 461 L920 464 L914 466 L912 477 L909 479.7 L912 480.5" stroke-width="1.4"/>
<path d="M918 463 L929.2 479.7" stroke-width="1.1"/>
<path d="M923 474.5 L946 467 Q950 468 949 474 L927 483" stroke-width="1.3"/><circle cx="925" cy="478.9" r="4.2" stroke-width="1.5"/><circle cx="925" cy="478.9" r="1.5"/>
<path d="M982 506 L990 502 L994 514 L986 517" stroke-width="1.2"/><circle cx="984.3" cy="512" r="4" stroke-width="1.5"/><circle cx="984.3" cy="512" r="1.4"/>
<path d="M972 519 L980 515 M976.4 395.3 L964.7 439" stroke-width="1"/>
<path d="M1038 388 L1028 414.2 M1025.8 457.8 L1042 467" stroke-width="1"/>
<path d="M1014.9 407.6 L1019.1 410.2 L1051.3 427.1 L1053 438.2 L1048 442.4 L1046 437 L1031.8 436.5 L1015.7 417 Z" stroke-width="1.6"/>
<path d="M1017 413 L1033 433 L1048 437" stroke-width="1"/>
<ellipse cx="1041.2" cy="429.7" rx="4.3" ry="3.5" stroke-width="1.6"/>
<path d="M1048 436 L1050 442" stroke-width="2.5"/>
<path d="M1044.5 474.6 L1056 468.5" stroke-width="2.6" stroke-dasharray="1.5 0.5"/><circle cx="1058.1" cy="467.9" r="2.8" stroke-width="1.5"/>
<path d="M1036 479 L1043 475.5" stroke-dasharray="2 2" stroke-width="0.9"/>
<path d="M881 546 L876 541 Q870 536 872 543 Q874 549 880 551" stroke-width="1.8"/>
<path d="M880 546 L907 563" stroke-width="9" stroke-dasharray="1.6 1.1"/>
<path d="M880 542 L907 559 M878 550 L905 567" stroke-width="1"/>
<path d="M907 563 L918 567" stroke-width="1.6"/><ellipse cx="917" cy="567" rx="2.5" ry="3.5" transform="rotate(-40 917 567)" stroke-width="1.3"/>
<path d="M840 552 L846 552 M859 552 L873 551" stroke-width="1"/>
<path d="M879.6 591.8 L934.9 559 L1029.9 610.8 L976.3 643.6 Z" stroke-width="1.5"/>
<path d="M879.6 591.8 V596 L976.3 647 L1029.9 614 V610.8 M976.3 643.6 V647 M888 583 L930 560 M886 585 L925 564" stroke-width="1.1"/>
<path d="M1011.3 563.4 L985 580" stroke-width="1"/>
<path d="M728.5 654.2 L820.4 599.7 Q823.5 598.5 826.7 600.9 L1020 708 Q1025 711 1024.5 716 L1023.8 723" stroke-width="1.6"/>
<path d="M733 657.5 L821 606.5 Q824 605 827 607 L1012 711" stroke-width="1.1"/>
<path d="M1013.5 720 L1023 715.2" stroke-width="2"/>
<path d="M728.5 654.2 V665.2 Q729.5 670 734.5 671.2 L921 770.6 Q929 774 937 770 L996.2 740.4" stroke-width="1.6"/>
<path d="M730 661 L920 759.7 Q927 763 934 760 L991.4 735.7" stroke-width="1.2"/>
<path d="M972 744.5 L991 735.5" stroke-width="2.6"/>
<path d="M764.8 667.6 V655.5 Q765 652 769 650 L827.9 617.9 Q831 616 834 618 L859 631.5 L862 636 L865 635 L983 699 Q988 702 987.5 707.3 L986 710 L920 745 Q915 748 909 745 L769 670 Q765 669 764.8 667.6 Z" stroke-width="1.6"/>
<path d="M768 660 L829 625.2 L978 705 M771 663 L792 674.5 L794 679 L797 678.5 L863 714 L866 719 L869 718.5 L920 742 Q925 744 930 741 L972 719" stroke-width="1.2"/>
<path d="M957 724 V708 Q958 697 966 695 Q974 696 975 706 L973 716 L962 722" stroke-width="1.5" fill="#fff"/><circle cx="967" cy="707.3" r="4.5" stroke-width="2.4"/><circle cx="967" cy="707.3" r="2" stroke-width="1.2"/>
<path d="M1017.8 652.3 L972.9 680" stroke-width="1"/>
<path d="M946 700 L958 706 M980 717 L995 724" stroke-dasharray="3 2" stroke-width="0.9"/>
<ellipse cx="1002" cy="729" rx="5" ry="7.6" transform="rotate(-25 1002 729)" stroke-width="1.2"/>
<ellipse cx="1009" cy="732.7" rx="5" ry="7.6" transform="rotate(-25 1009 732.7)" stroke-width="1.2"/>
<ellipse cx="1016" cy="736" rx="5" ry="7.6" transform="rotate(-25 1016 736)" stroke-width="1.2"/>
<ellipse cx="1021.5" cy="739.3" rx="5" ry="7.6" transform="rotate(-25 1021.5 739.3)" stroke-width="1.2"/>
<ellipse cx="1027" cy="742" rx="5" ry="7.6" transform="rotate(-25 1027 742)" stroke-width="1.2"/>
<path d="M1004 722 L1008 735 M1011 726 L1014 739 M1018 730 L1021 743 M1023 733 L1026 746" stroke-width="0.8"/>
<path d="M990.2 761 L1016 746" stroke-width="1"/>
<path d="M1036 748 Q1038 744 1042 745 L1056 752 L1054 762 L1040 756 Q1035 753 1036 748 Z" stroke-width="1.6" fill="#000" fill-opacity="0.35"/>
<path d="M1040 746 L1038 755 M1043 747 L1041 757 M1046 749 L1044 758 M1049 750 L1047 760 M1052 751 L1050 761" stroke-width="1.3"/>
<ellipse cx="1060.8" cy="759.5" rx="7.6" ry="10.5" transform="rotate(-30 1060.8 759.5)" stroke-width="2.2" fill="#fff"/>
<ellipse cx="1061.5" cy="759.5" rx="5" ry="7.5" transform="rotate(-30 1061.5 759.5)" stroke-width="1.1"/>
<path d="M1057 757 L1066 762 M1061 753 L1062 766" stroke-width="1"/>
<path d="M1068.4 764.4 L1075 768.7" stroke-dasharray="2 2" stroke-width="0.9"/>
<path d="M1055.8 714.4 L1060 748" stroke-width="1"/>
</g>
<!-- 18_bag.svg -->
<g stroke-width="1.4">
<path d="M336.8 543 L352.3 532.7 L370.2 542.1 L354 551.5 Z M336.8 543 L337.7 580.7 L354 588.4 M354 551.5 L354.8 595.2" stroke-width="1.5"/>
<path d="M370.2 542.1 Q380 548 387 549 Q410 560 431 574.7 Q470 598 500 610 Q515 617 516.6 620.9 Q524 626 526 632" stroke-width="1.5"/>
<path d="M354 552 Q365 558 380 566 Q395 573 408.8 585 Q430 597 450 608 Q475 622 490 626 Q497 632 501.2 632.9 L526 632" stroke-width="1.5"/>
<path d="M354.8 595.2 L364.2 597.8 Q369 600 371.1 603.8 Q370 612 374 622 Q381 640 381.4 662 L381.6 664.4 Q382 670 383.4 674.7 L500 735 Q510 742 515.2 745 Q520 745 521 738 Q518 700 521 670 Q522 645 526 632" stroke-width="1.5"/>
<path d="M381.6 664.4 L513.5 732.9" stroke-width="3"/>
<path d="M513 729 L520 731 L521 736 L515 735 Z" stroke-width="1.3"/>
<g transform="translate(455 635) rotate(28)"><text x="0" y="0" text-anchor="middle" dominant-baseline="middle" font-family="Liberation Sans" font-weight="bold" font-style="italic" font-size="24" fill="#fff" stroke="#000" stroke-width="1.5" textLength="68" lengthAdjust="spacingAndGlyphs">SKIL</text></g>
<path d="M626.7,548.9 L651.9,548.9 L666.1,562.3 L670,582 L666.1,600.9 L651.9,613.5 L626.7,613.5 L612.5,600.9 L607.8,582 L612.5,562.3Z" stroke-width="1.4"/>
<path d="M629.9 560.7 Q614.1 582.0 629.9 600.9" stroke-width="0.85"/>
<path d="M648.8 560.7 Q664.6 582.0 648.8 600.9" stroke-width="0.85"/>
<path d="M629.2 559.2 Q610.3 582.0 629.2 602.4" stroke-width="0.85"/>
<path d="M649.5 559.2 Q668.4 582.0 649.5 602.4" stroke-width="0.85"/>
<path d="M628.6 557.7 Q606.4 582.0 628.6 603.9" stroke-width="0.85"/>
<path d="M650.1 557.7 Q672.3 582.0 650.1 603.9" stroke-width="0.85"/>
<path d="M627.9 556.2 Q602.6 582.0 627.9 605.4" stroke-width="0.85"/>
<path d="M650.8 556.2 Q676.1 582.0 650.8 605.4" stroke-width="0.85"/>
<path d="M627.2 554.7 Q598.8 582.0 627.2 606.9" stroke-width="0.85"/>
<path d="M651.5 554.7 Q679.9 582.0 651.5 606.9" stroke-width="0.85"/>
<path d="M626.6 553.2 Q594.9 582.0 626.6 608.4" stroke-width="0.85"/>
<path d="M652.1 553.2 Q683.8 582.0 652.1 608.4" stroke-width="0.85"/>
<path d="M625.9 551.7 Q591.1 582.0 625.9 609.9" stroke-width="0.85"/>
<path d="M652.8 551.7 Q687.6 582.0 652.8 609.9" stroke-width="0.85"/>
<path d="M629.9 560.7 L627 556.5 M648.8 560.7 L652 556.5 M629.9 600.9 L627 606 M648.8 600.9 L652 606" stroke-width="1.2"/>
<rect x="626.7" y="548.9" width="25.2" height="7.6" fill="#fff" stroke-width="1.4"/><rect x="626.7" y="606" width="25.2" height="7.5" fill="#fff" stroke-width="1.4"/>
<path d="M628 550 h4 v6 h-4z M647 550 h4 v6 h-4z M628 607 h4 v6 h-4z M647 607 h4 v6 h-4z" fill="#000" stroke-width="0.8"/>
<circle cx="639.3" cy="556" r="2" stroke-width="1"/><circle cx="639.3" cy="608" r="2" stroke-width="1"/>
<rect x="611" y="579" width="6" height="6" fill="#fff" stroke-width="1.2"/><rect x="661" y="579" width="6" height="6" fill="#fff" stroke-width="1.2"/>
<path d="M605.5 582 H674 M639.3 546.5 V615.8" stroke-width="0.7" stroke-dasharray="6 2 1 2"/>
<path d="M577.9 539.4 Q600 531 625.1 546.5 M580 540 Q601 534 624 548" stroke-width="0.9"/>
<path d="M623 545 L626 547" stroke-width="2.5"/>
<path d="M657.4 548.9 Q668 536 680 538 Q692 542 696 556 L693 561" stroke-width="2"/>
<path d="M688 558 Q690 565 694 562" stroke-width="3"/>
<path d="M623.6 615.8 Q615 628 601.5 627.7 Q588 625 585.8 612.7" stroke-width="2"/>
<path d="M588 609 Q592 606 592 613" stroke-width="3"/><circle cx="622.5" cy="616" r="1.5"/>
<path d="M660.6 618.2 Q690 632 718 617.4 M661 620 Q690 634 717 620" stroke-width="0.9"/>
<path d="M659 617 L662 619" stroke-width="2.5"/>
<path d="M602.3 519 L598.4 534.7 M674 520.5 L677.1 538.6 M574 631.6 L592 623.7 M700.8 644.2 L698.4 625.3" stroke-width="1"/>
<path d="M457 558.2 L431.3 573.6" stroke-width="1"/>
</g>
</g>
<g font-family="Liberation Sans" font-weight="bold" font-size="16" fill="#000">
<text x="693.2" y="64.3" textLength="17.5" lengthAdjust="spacingAndGlyphs">60</text>
<text x="836.4" y="62.0" textLength="7.1" lengthAdjust="spacingAndGlyphs">1</text>
<text x="920.7" y="79.8" textLength="17.3" lengthAdjust="spacingAndGlyphs">22</text>
<text x="964.4" y="136.2" textLength="18.1" lengthAdjust="spacingAndGlyphs">22</text>
<text x="618.0" y="100.4" textLength="17.0" lengthAdjust="spacingAndGlyphs">25</text>
<text x="660.4" y="126.0" textLength="16.0" lengthAdjust="spacingAndGlyphs">10</text>
<text x="614.7" y="169.0" textLength="16.0" lengthAdjust="spacingAndGlyphs">12</text>
<text x="608.0" y="196.4" textLength="17.5" lengthAdjust="spacingAndGlyphs">27</text>
<text x="782.5" y="190.0" textLength="17.5" lengthAdjust="spacingAndGlyphs">61</text>
<text x="663.3" y="231.3" textLength="18.3" lengthAdjust="spacingAndGlyphs">26</text>
<text x="724.4" y="262.0" textLength="8.6" lengthAdjust="spacingAndGlyphs">4</text>
<text x="818.0" y="243.5" textLength="7.5" lengthAdjust="spacingAndGlyphs">6</text>
<text x="931.6" y="279.0" textLength="17.4" lengthAdjust="spacingAndGlyphs">24</text>
<text x="495.0" y="135.8" textLength="7.1" lengthAdjust="spacingAndGlyphs">1</text>
<text x="432.3" y="199.5" textLength="27.0" lengthAdjust="spacingAndGlyphs">845</text>
<text x="474.0" y="199.5" textLength="17.4" lengthAdjust="spacingAndGlyphs">22</text>
<text x="330.7" y="304.4" textLength="17.5" lengthAdjust="spacingAndGlyphs">40</text>
<text x="776.4" y="328.0" textLength="18.1" lengthAdjust="spacingAndGlyphs">29</text>
<text x="746.5" y="344.4" textLength="17.1" lengthAdjust="spacingAndGlyphs">28</text>
<text x="801.8" y="357.0" textLength="8.2" lengthAdjust="spacingAndGlyphs">5</text>
<text x="296.5" y="360.7" textLength="8.8" lengthAdjust="spacingAndGlyphs">3</text>
<text x="540.0" y="365.5" textLength="17.3" lengthAdjust="spacingAndGlyphs">38</text>
<text x="497.3" y="390.0" textLength="9.1" lengthAdjust="spacingAndGlyphs">2</text>
<text x="419.0" y="407.3" textLength="17.5" lengthAdjust="spacingAndGlyphs">55</text>
<text x="395.5" y="421.8" textLength="17.0" lengthAdjust="spacingAndGlyphs">13</text>
<text x="619.3" y="404.7" textLength="17.1" lengthAdjust="spacingAndGlyphs">31</text>
<text x="968.2" y="388.9" textLength="17.5" lengthAdjust="spacingAndGlyphs">30</text>
<text x="1031.6" y="382.2" textLength="17.4" lengthAdjust="spacingAndGlyphs">33</text>
<text x="260.7" y="398.0" textLength="16.3" lengthAdjust="spacingAndGlyphs">14</text>
<text x="150.0" y="417.0" textLength="18.0" lengthAdjust="spacingAndGlyphs">49</text>
<text x="232.5" y="418.6" textLength="18.0" lengthAdjust="spacingAndGlyphs">50</text>
<text x="96.0" y="467.4" textLength="18.0" lengthAdjust="spacingAndGlyphs">22</text>
<text x="323.6" y="477.6" textLength="31.1" lengthAdjust="spacingAndGlyphs">3/50</text>
<text x="691.0" y="456.4" textLength="18.0" lengthAdjust="spacingAndGlyphs">32</text>
<text x="1011.3" y="452.0" textLength="17.4" lengthAdjust="spacingAndGlyphs">22</text>
<text x="487.5" y="486.5" textLength="28.0" lengthAdjust="spacingAndGlyphs">837</text>
<text x="296.0" y="491.5" textLength="17.3" lengthAdjust="spacingAndGlyphs">46</text>
<text x="915.9" y="509.3" textLength="17.4" lengthAdjust="spacingAndGlyphs">34</text>
<text x="90.4" y="495.6" textLength="17.0" lengthAdjust="spacingAndGlyphs">51</text>
<text x="64.7" y="511.5" textLength="18.0" lengthAdjust="spacingAndGlyphs">52</text>
<text x="172.6" y="536.7" textLength="18.0" lengthAdjust="spacingAndGlyphs">22</text>
<text x="597.4" y="516.4" textLength="17.1" lengthAdjust="spacingAndGlyphs">27</text>
<text x="667.6" y="517.0" textLength="17.1" lengthAdjust="spacingAndGlyphs">25</text>
<text x="458.7" y="554.8" textLength="17.1" lengthAdjust="spacingAndGlyphs">48</text>
<text x="817.0" y="558.2" textLength="17.5" lengthAdjust="spacingAndGlyphs">35</text>
<text x="1018.5" y="562.5" textLength="16.5" lengthAdjust="spacingAndGlyphs">36</text>
<text x="212.0" y="626.0" textLength="16.6" lengthAdjust="spacingAndGlyphs">54</text>
<text x="557.3" y="638.7" textLength="17.7" lengthAdjust="spacingAndGlyphs">25</text>
<text x="696.0" y="662.7" textLength="17.8" lengthAdjust="spacingAndGlyphs">26</text>
<text x="1027.5" y="655.0" textLength="17.2" lengthAdjust="spacingAndGlyphs">57</text>
<text x="70.6" y="669.7" textLength="18.0" lengthAdjust="spacingAndGlyphs">22</text>
<text x="204.0" y="673.0" textLength="17.0" lengthAdjust="spacingAndGlyphs">53</text>
<text x="1046.5" y="712.0" textLength="17.2" lengthAdjust="spacingAndGlyphs">58</text>
<text x="968.7" y="776.6" textLength="17.3" lengthAdjust="spacingAndGlyphs">59</text>
</g>
</svg>
</body></html>
